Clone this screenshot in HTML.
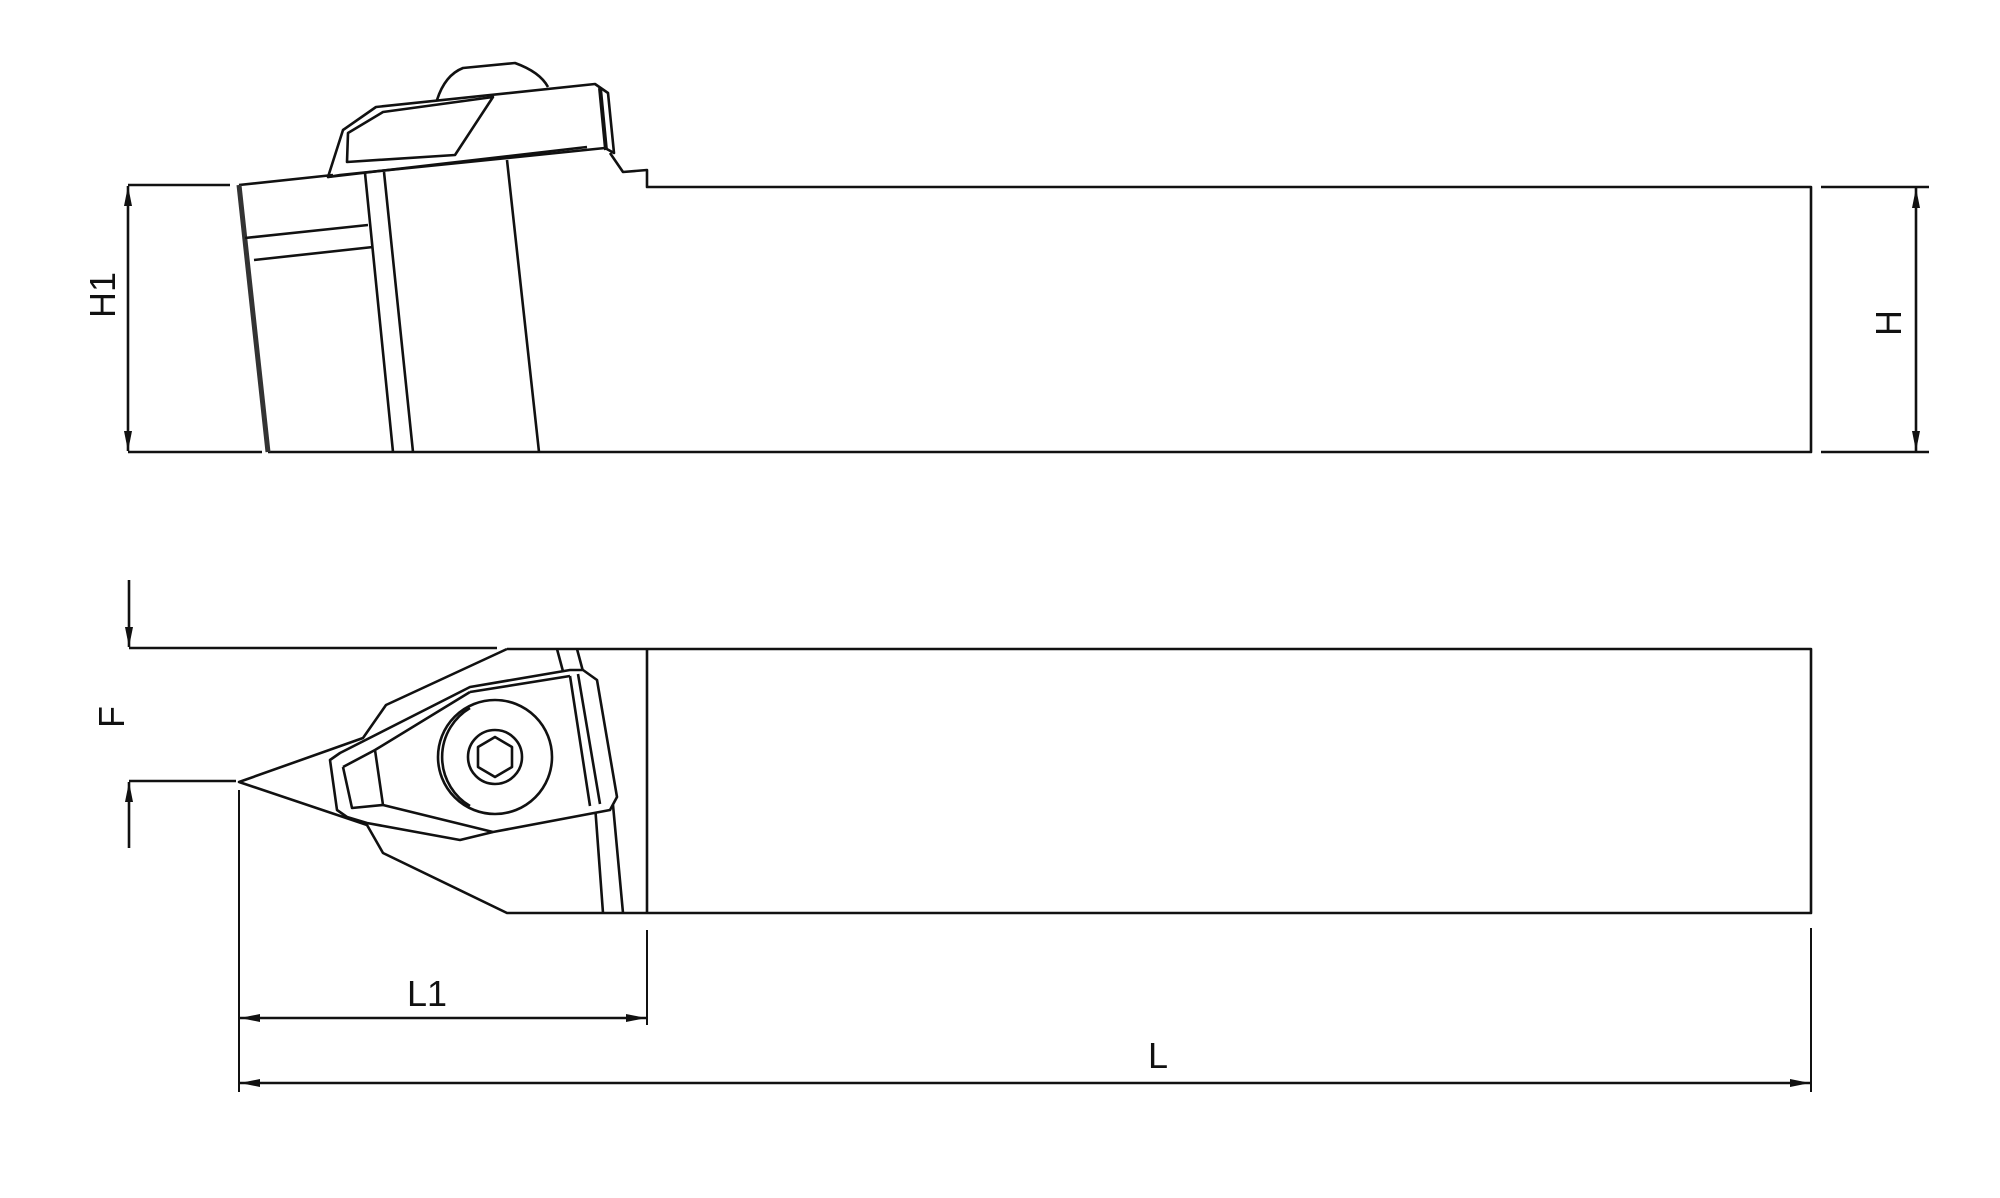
<!DOCTYPE html>
<html><head><style>html,body{margin:0;padding:0;background:#fff}svg{display:block}</style></head>
<body>
<svg width="2000" height="1198" viewBox="0 0 2000 1198" xmlns="http://www.w3.org/2000/svg" fill="none" stroke="#111" stroke-width="2.6" stroke-linejoin="round">
<defs>
<marker id="a" viewBox="0 0 20 8" refX="20" refY="4" markerWidth="20" markerHeight="8" markerUnits="userSpaceOnUse" orient="auto-start-reverse"><path d="M0,0 L20,4 L0,8 Z" fill="#111" stroke="none"/></marker>
</defs>
<!-- TOP VIEW -->
<path d="M239,185 L333,175 M328,177 L587,147 M610,153 L623,172 L647,170 L647,187 L1811,187 L1811,452 L268,452"/>
<path d="M239,185 L268,452" stroke-width="5" stroke="#333"/>
<path d="M245,238 L368,225 M254,260 L373,247 M365,173 L393,452 M384,172 L413,452 M507,160 L539,452"/>
<path d="M328,177 L343,130 L376,107 L595,84 L608,93 L614,153 L605,148 L340,175 Z"/>
<path d="M348,133 L383,112 L493,97 L455,155 L347,162 Z"/>
<path d="M437,100 Q445,75 463,68 L515,63 Q540,72 548,87"/>
<path d="M600,88 L606,150" stroke-width="4"/>
<!-- H1 dim -->
<path d="M128,185 L230,185 M128,452 L262,452"/>
<path d="M128,186 L128,451" marker-start="url(#a)" marker-end="url(#a)"/>
<text x="0" y="0" transform="translate(115,318) rotate(-90)" font-family="Liberation Sans, sans-serif" font-size="36" fill="#111" stroke="none">H1</text>
<!-- H dim -->
<path d="M1821,187 L1929,187 M1821,452 L1929,452"/>
<path d="M1916,188 L1916,451" marker-start="url(#a)" marker-end="url(#a)"/>
<text x="0" y="0" transform="translate(1901,336) rotate(-90)" font-family="Liberation Sans, sans-serif" font-size="36" fill="#111" stroke="none">H</text>
<!-- BOTTOM VIEW -->
<path d="M507,649 L1811,649 L1811,913 L507,913 L383,853 L367,825 L239,782 L363,738 L386,705 L507,649 M647,649 L647,913"/>
<path d="M557,649 L568,690 M577,649 L588,690 M595,805 L603,913 M613,805 L623,913"/>
<path fill="#fff" d="M330,760 L340,753 L470,687 L570,670 L583,670 L597,680 L617,797 L610,810 L493,832 L460,840 L367,823 L347,817 L337,810 Z"/>
<path d="M343,767 L375,750 L470,692 M375,750 L383,805 L493,832 M343,767 L352,808 L383,805 M570,676 L590,806 M578,674 L600,804 M470,692 L570,676"/>
<circle cx="495" cy="757" r="57"/>
<path d="M470,708 A57,57 0 0 0 470,806"/>
<circle cx="495" cy="757" r="27"/>
<path d="M495,737 L512,747 L512,767 L495,777 L478,767 L478,747 Z"/>
<!-- F dim -->
<path d="M129,648 L497,648 M129,781 L236,781"/>
<path d="M129,580 L129,647" marker-end="url(#a)"/>
<path d="M129,848 L129,782" marker-end="url(#a)"/>
<text x="0" y="0" transform="translate(124,728) rotate(-90)" font-family="Liberation Sans, sans-serif" font-size="36" fill="#111" stroke="none">F</text>
<!-- L1, L dims -->
<path d="M239,790 L239,1092 M647,930 L647,1025 M1811,928 L1811,1092" stroke-width="2"/>
<path d="M240,1018 L646,1018" marker-start="url(#a)" marker-end="url(#a)"/>
<path d="M240,1083 L1810,1083" marker-start="url(#a)" marker-end="url(#a)"/>
<text x="427" y="1006" text-anchor="middle" font-family="Liberation Sans, sans-serif" font-size="36" fill="#111" stroke="none">L1</text>
<text x="1158" y="1068" text-anchor="middle" font-family="Liberation Sans, sans-serif" font-size="36" fill="#111" stroke="none">L</text>
</svg>
</body></html>
